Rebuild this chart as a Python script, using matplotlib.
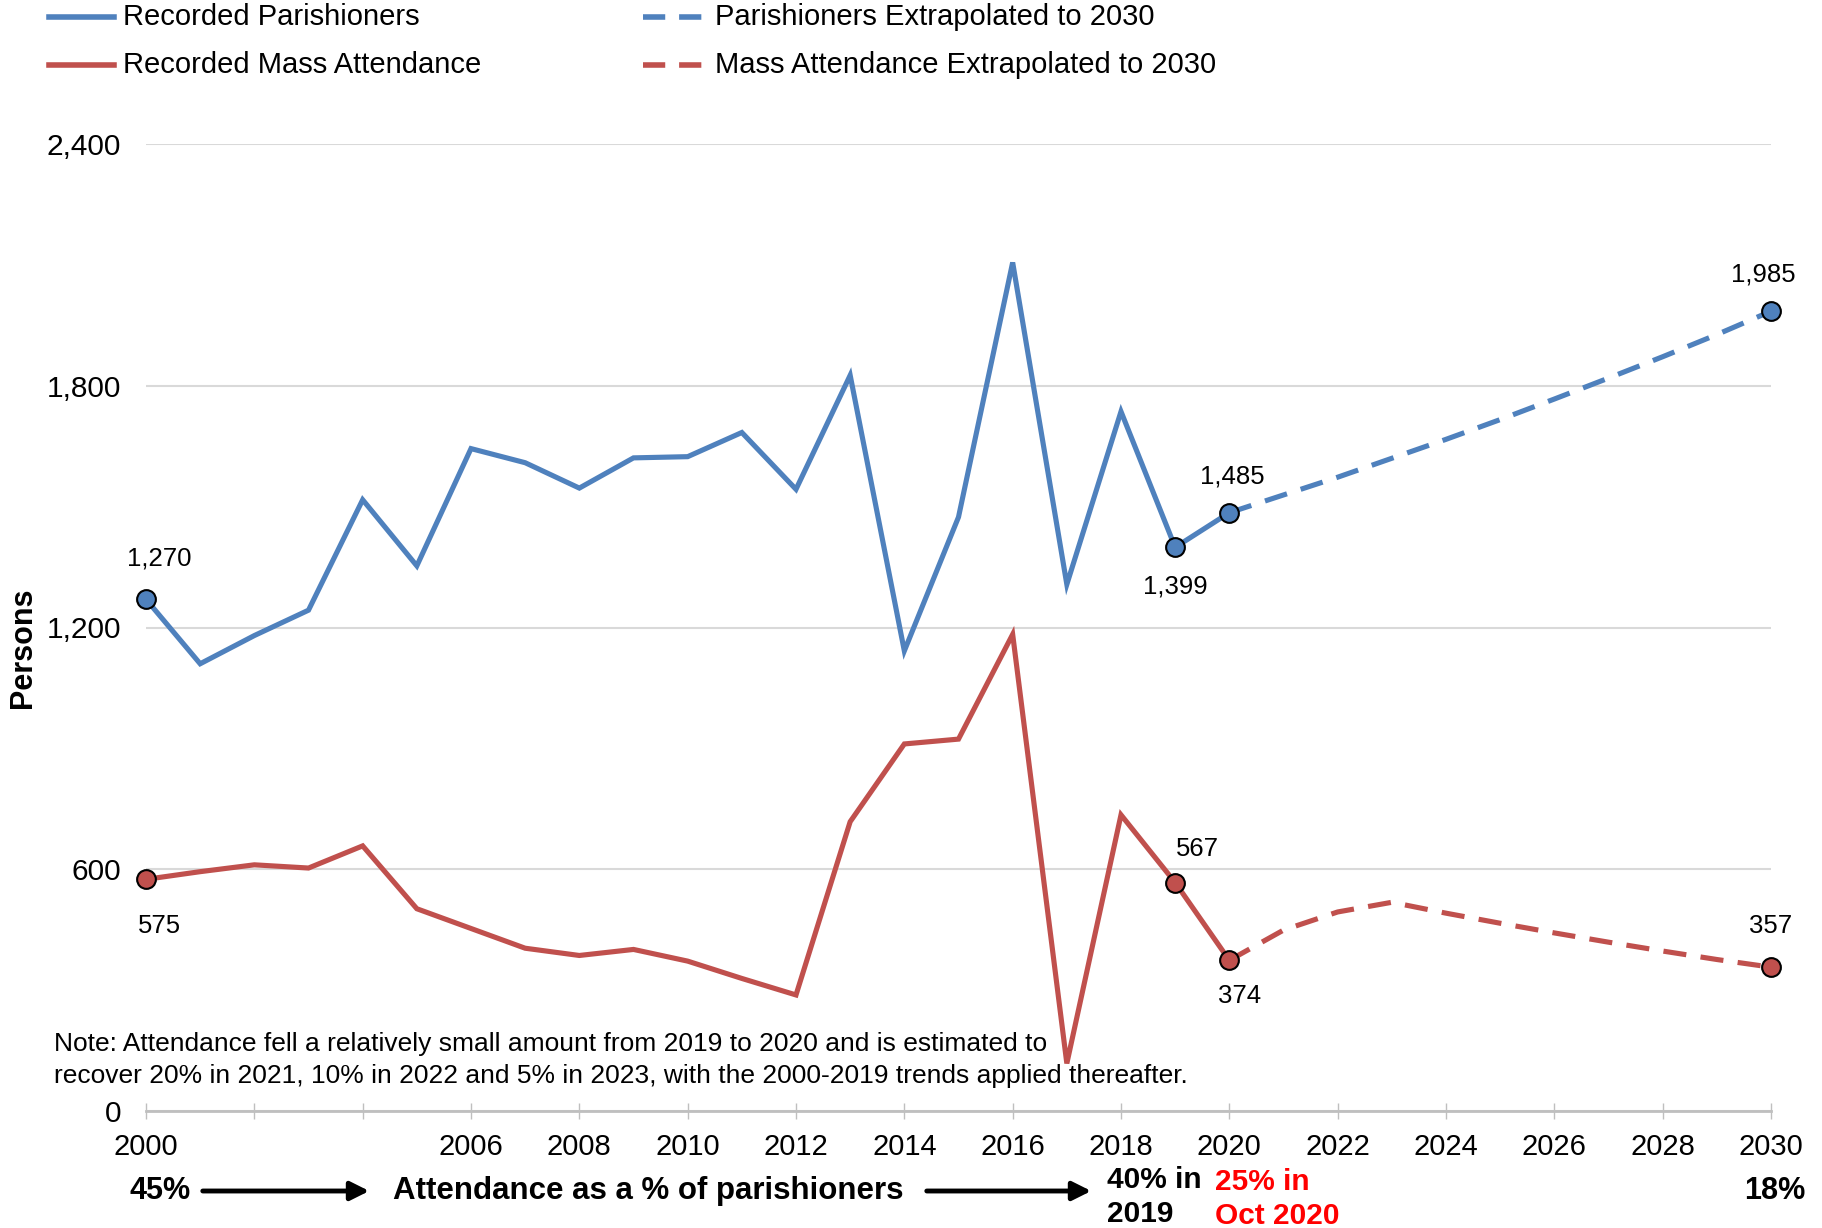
import matplotlib
matplotlib.use('Agg')
import matplotlib.pyplot as plt
from matplotlib.lines import Line2D
from matplotlib.patches import FancyArrowPatch
from matplotlib.ticker import FuncFormatter

plt.rcParams['font.family'] = ['Liberation Sans', 'DejaVu Sans']

# recorded data 2000-2020
years = list(range(2000, 2021))
parishioners = [1270, 1110, 1180, 1243, 1517, 1353, 1644, 1609, 1546, 1621, 1624,
                1684, 1543, 1826, 1142, 1474, 2106, 1307, 1736, 1399, 1485]
attendance = [575, 594, 611, 603, 658, 502, 453, 404, 386, 401, 372,
              329, 288, 718, 911, 923, 1183, 118, 735, 567, 374]

# extrapolation 2020-2030
ext_years = list(range(2020, 2031))
ext_parishioners = [1485, 1529, 1573, 1620, 1667, 1716, 1767, 1819, 1872, 1927, 1985]
ext_attendance = [374, 449, 494, 518, 491, 466, 442, 419, 397, 376, 357]

# labelled points: (year, value, dx, dy) offsets in pixels
blue_labels = [(2000, 1270, 13, 41), (2019, 1399, 0, -39), (2020, 1485, 3, 36), (2030, 1985, -8, 37)]
red_labels = [(2000, 575, 13, -47), (2019, 567, 22, 34), (2020, 374, 10, -36), (2030, 357, 0, 41)]

xtick_pos = list(range(2000, 2031, 2))
xtick_lbl = ['2000', '', ''] + [str(y) for y in range(2006, 2031, 2)]
yticks = [0, 600, 1200, 1800, 2400]

BLUE = '#4F81BD'
RED = '#C0504D'
W, H = 1822, 1228

fig = plt.figure(figsize=(W / 100, H / 100), dpi=100)
ax = fig.add_axes([146 / W, 1 - 1111 / H, (1771 - 146) / W, (1111 - 144) / H])

ax.plot(years, parishioners, color=BLUE, lw=3.7, solid_joinstyle='miter', zorder=3)
ax.plot(years, attendance, color=RED, lw=3.7, solid_joinstyle='miter', zorder=3)
ax.plot(ext_years, ext_parishioners, color=BLUE, lw=3.7, dashes=(4.5, 2.8), zorder=3)
ax.plot(ext_years, ext_attendance, color=RED, lw=3.7, dashes=(4.5, 2.8), zorder=3)

for labels, col in ((blue_labels, BLUE), (red_labels, RED)):
    for yr, val, dx, dy in labels:
        ax.plot(yr, val, 'o', ms=13.5, mfc=col, mec='black', mew=1.5, zorder=4, clip_on=False)
        ax.annotate(f'{val:,}', (yr, val), xytext=(dx, dy), textcoords='offset pixels',
                    ha='center', va='center', fontsize=18.5)

ax.set_xlim(2000, 2030)
ax.set_ylim(0, 2400)
ax.set_yticks(yticks)
ax.yaxis.set_major_formatter(FuncFormatter(lambda v, p: f'{int(v):,}'))
ax.set_xticks(xtick_pos)
ax.set_xticklabels(xtick_lbl)
ax.grid(axis='y', color='#d9d9d9', lw=1.5)
ax.set_axisbelow(True)
for s in ['top', 'right', 'left']:
    ax.spines[s].set_visible(False)
ax.spines['bottom'].set_color('#bfbfbf')
ax.spines['bottom'].set_linewidth(2)
ax.tick_params(axis='y', length=0, pad=18, labelsize=21.5)
ax.tick_params(axis='x', direction='inout', length=12, width=1, color='#bfbfbf', pad=10, labelsize=21)

fig.text(23 / W, 1 - 648 / H, 'Persons', rotation=90, fontsize=22, fontweight='bold',
         ha='center', va='center')

# note
fig.text(54 / W, 1 - 1060 / H,
         'Note: Attendance fell a relatively small amount from 2019 to 2020 and is estimated to\n'
         'recover 20% in 2021, 10% in 2022 and 5% in 2023, with the 2000-2019 trends applied thereafter.',
         fontsize=19, va='center', ha='left', linespacing=1.45)

# legend drawn by hand
leg = [(49, 114, 123, 17, BLUE, None, 'Recorded Parishioners'),
       (49, 114, 123, 65, RED, None, 'Recorded Mass Attendance'),
       (643, 707, 715, 17, BLUE, (4, 2.5), 'Parishioners Extrapolated to 2030'),
       (643, 707, 715, 65, RED, (4, 2.5), 'Mass Attendance Extrapolated to 2030')]
for x0, x1, tx, y, col, dsh, txt in leg:
    ln = Line2D([x0 / W, x1 / W], [1 - y / H, 1 - y / H], color=col, lw=4,
                transform=fig.transFigure)
    if dsh:
        ln.set_dashes(dsh)
    fig.add_artist(ln)
    fig.text(tx / W, 1 - y / H, txt, fontsize=21, va='center', ha='left')

# bottom attendance-share row
yb = 1 - 1191 / H
fig.text(160 / W, yb, '45%', fontsize=22, fontweight='bold', ha='center', va='center')
fig.text(648 / W, yb, 'Attendance as a % of parishioners', fontsize=22.5, fontweight='bold',
         ha='center', va='center')
for xa, xb in ((200, 372), (924, 1094)):
    fig.add_artist(FancyArrowPatch((xa / W, yb), (xb / W, yb),
                   transform=fig.transFigure, arrowstyle='-|>', mutation_scale=28,
                   lw=3.5, color='black'))
fig.text(1107 / W, 1 - 1197 / H, '40% in\n2019', fontsize=21.5, fontweight='bold',
         ha='left', va='center', linespacing=1.3)
fig.text(1215 / W, 1 - 1199 / H, '25% in\nOct 2020', fontsize=21.5, fontweight='bold',
         color='red', ha='left', va='center', linespacing=1.3)
fig.text(1805 / W, yb, '18%', fontsize=22, fontweight='bold', ha='right', va='center')

fig.savefig('out.png', dpi=100)
